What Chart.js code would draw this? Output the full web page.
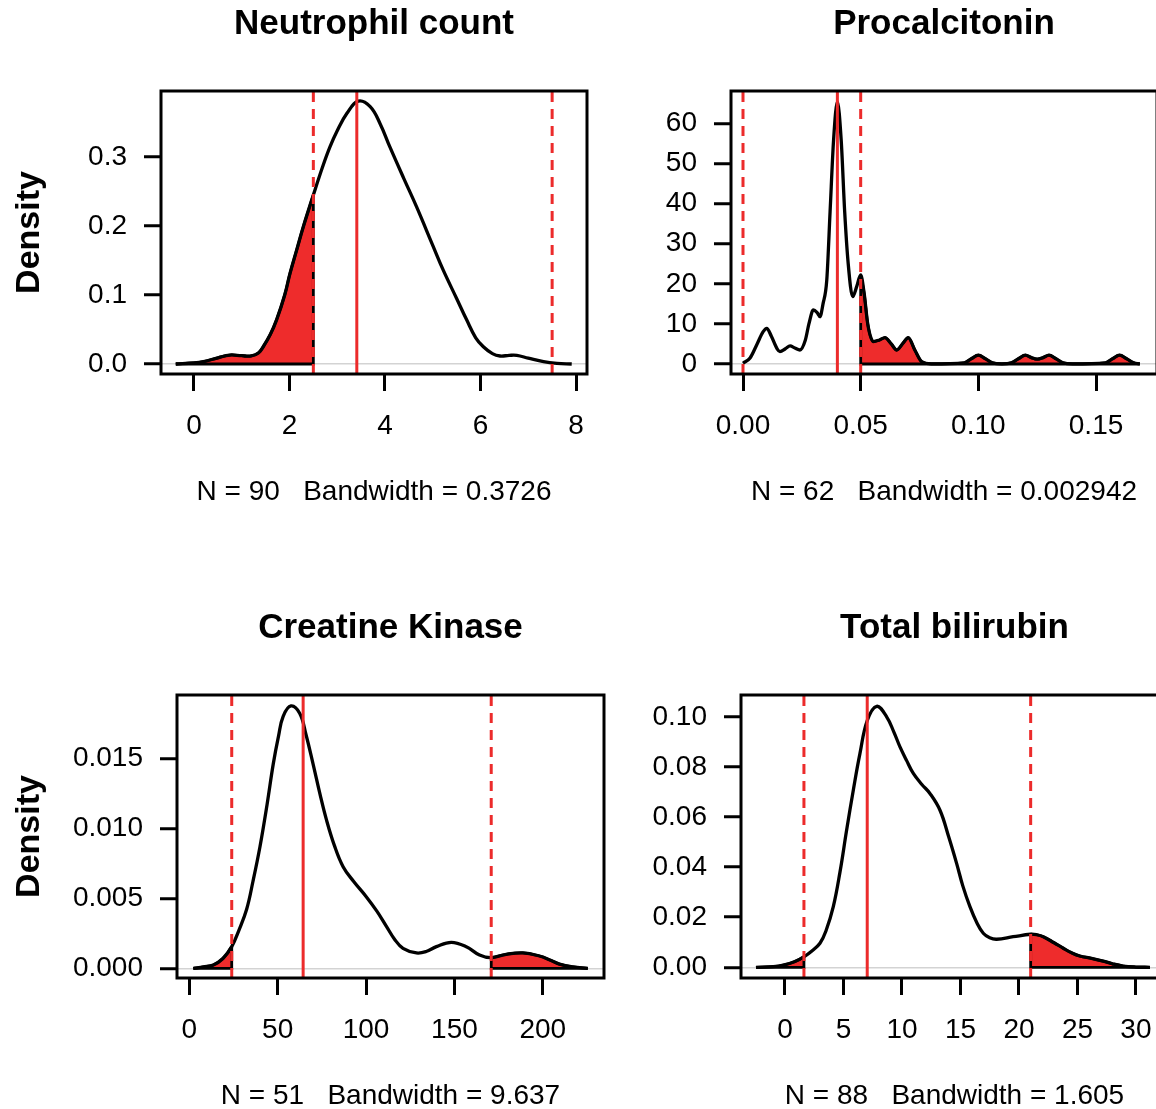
<!DOCTYPE html>
<html>
<head>
<meta charset="utf-8">
<script src="https://cdn.jsdelivr.net/npm/chart.js@4.4.1/dist/chart.umd.min.js"></script>
<style>
  html, body { margin: 0; padding: 0; background: #fff; width: 1156px; height: 1109px; overflow: hidden; position: relative; }
  canvas { position: absolute; }
</style>
</head>
<body>
<canvas id="c1"></canvas>
<canvas id="c2"></canvas>
<canvas id="c3"></canvas>
<canvas id="c4"></canvas>
<script>
// Density plots with reference limits

// Neutrophil count
const neutroX = [-0.38, 0.0, 0.2, 0.5, 0.75, 1.0, 1.2, 1.35, 1.45, 1.6, 1.73, 1.9, 2.01, 2.15, 2.29, 2.5, 2.7, 2.85, 3.0, 3.2, 3.44, 3.69, 3.9, 4.1, 4.4, 4.66, 5.0, 5.22, 5.5, 5.71, 5.9, 6.06, 6.25, 6.41, 6.6, 6.76, 7.0, 7.32, 7.6, 7.91];
const neutroY = [0, 0.0015, 0.0034, 0.009, 0.013, 0.012, 0.0116, 0.016, 0.025, 0.043, 0.064, 0.1, 0.131, 0.165, 0.199, 0.245, 0.287, 0.315, 0.338, 0.363, 0.381, 0.373, 0.348, 0.315, 0.268, 0.228, 0.172, 0.136, 0.095, 0.064, 0.038, 0.025, 0.015, 0.0116, 0.0125, 0.0125, 0.0085, 0.0034, 0.001, 0];
const neutroCuts = [2.5, 3.41, 7.5];          // lower, median, upper
const neutroXTicks = [0, 2, 4, 6, 8];
const neutroYTicks = [0, 0.1, 0.2, 0.3];

// Procalcitonin
const pctX = [0, 0.003, 0.006, 0.0085, 0.0101, 0.012, 0.0145, 0.0157, 0.018, 0.02, 0.022, 0.0242, 0.0265, 0.028, 0.0299, 0.0315, 0.0327, 0.034, 0.0356, 0.037, 0.0385, 0.0401, 0.0417, 0.0432, 0.0447, 0.0466, 0.0483, 0.05, 0.0515, 0.053, 0.0554, 0.058, 0.0603, 0.063, 0.0653, 0.068, 0.0702, 0.073, 0.0759, 0.08, 0.094, 0.097, 0.1, 0.103, 0.106, 0.11, 0.114, 0.117, 0.12, 0.1225, 0.125, 0.1275, 0.13, 0.133, 0.136, 0.14, 0.154, 0.157, 0.16, 0.163, 0.166, 0.1686];
const pctY = [0.2, 1.5, 5, 8, 8.9, 7, 3.8, 3.1, 3.8, 4.5, 4.0, 3.5, 6, 10, 13.5, 12.8, 11.8, 15, 21, 38, 56, 65.4, 56, 38, 25, 16.8, 19.3, 22.2, 17.5, 10, 5.6, 6.0, 6.6, 5, 3.5, 5.2, 6.6, 3.5, 0.6, 0.05, 0.3, 1.3, 2.2, 1.3, 0.3, 0.05, 0.3, 1.3, 2.2, 1.6, 1.2, 1.6, 2.2, 1.3, 0.3, 0.05, 0.3, 1.3, 2.2, 1.3, 0.3, 0.05];
const pctCuts = [0, 0.0401, 0.05];
const pctXTicks = [0, 0.05, 0.10, 0.15];
const pctYTicks = [0, 10, 20, 30, 40, 50, 60];

// Creatine Kinase
const ckX = [2.3, 8, 13.6, 19, 24, 28, 32.4, 36, 40, 44, 47.5, 50.5, 53.1, 57.5, 62.5, 66, 70, 74, 77.6, 82, 87, 93, 100.2, 106, 111.5, 116, 120.9, 128.5, 134, 139.8, 148.2, 156.7, 164.2, 170.8, 179.3, 188.7, 198.1, 204, 209.4, 217, 225.4];
const ckY = [0, 0.0001, 0.00024, 0.0007, 0.00155, 0.0027, 0.0042, 0.0062, 0.0087, 0.0117, 0.0146, 0.0166, 0.018, 0.01874, 0.0182, 0.0167, 0.0146, 0.0124, 0.0106, 0.0088, 0.00726, 0.0062, 0.0051, 0.0041, 0.003, 0.0021, 0.00143, 0.0011, 0.0012, 0.00155, 0.00186, 0.00155, 0.00095, 0.00076, 0.001, 0.0011, 0.00088, 0.0006, 0.0003, 0.0001, 0];
const ckCuts = [24, 64.4, 170.8];
const ckXTicks = [0, 50, 100, 150, 200];
const ckYTicks = [0, 0.005, 0.010, 0.015];

// Total bilirubin
const bilX = [-2.48, -1, -0.14, 0.8, 1.62, 2.3, 2.99, 3.5, 4.13, 4.7, 5.27, 5.85, 6.41, 7.04, 7.84, 8.69, 9.3, 9.83, 10.4, 10.97, 11.7, 12.39, 13.25, 14, 14.67, 15.2, 15.81, 16.4, 16.95, 17.5, 18.09, 19.51, 21.0, 21.5, 22.08, 23, 23.79, 24.5, 25.21, 26.2, 27.2, 28, 28.9, 30, 31.2];
const bilY = [0, 0.0003, 0.0009, 0.0022, 0.0042, 0.0065, 0.0096, 0.0145, 0.0242, 0.038, 0.0548, 0.071, 0.0854, 0.0986, 0.1042, 0.1, 0.094, 0.088, 0.0825, 0.0774, 0.073, 0.0694, 0.0627, 0.052, 0.0415, 0.0325, 0.0242, 0.0178, 0.0136, 0.0118, 0.0112, 0.0122, 0.0132, 0.013, 0.0122, 0.0098, 0.0076, 0.0058, 0.0045, 0.0036, 0.0025, 0.0014, 0.0005, 0.0001, 0];
const bilCuts = [1.62, 7.03, 21.0];
const bilXTicks = [0, 5, 10, 15, 20, 25, 30];
const bilYTicks = [0, 0.02, 0.04, 0.06, 0.08, 0.10];

const FONT = "'Liberation Sans', Arial, Helvetica, sans-serif";
const RED = '#ec2b2b';
const FILL = '#ee2c2c';

Chart.defaults.color = '#000';
Chart.defaults.font.family = FONT;

// canvas placement + plot box (page px) for each panel
const PANELS = [
  { id: 'c1', title: 'Neutrophil count', sub: 'N = 90   Bandwidth = 0.3726', xs: neutroX, ys: neutroY, cuts: neutroCuts,
    xTicks: neutroXTicks, yTicks: neutroYTicks, xDec: 0, yDec: 1, xr: [-0.69, 8.23], yr: [-0.0145, 0.3957], smooth: 'bezier',
    fillLo: true, fillHi: false, ylab: true, cx: 0, cy: 0, cw: 610, ch: 554, box: [161, 91, 587, 374], titleY: 24, subY: 492 },
  { id: 'c2', title: 'Procalcitonin', sub: 'N = 62   Bandwidth = 0.002942', xs: pctX, ys: pctY, cuts: pctCuts,
    xTicks: pctXTicks, yTicks: pctYTicks, xDec: 2, yDec: 0, xr: [-0.0051, 0.1759], yr: [-2.49, 68.08], smooth: 'monotone',
    fillLo: false, fillHi: true, ylab: false, cx: 578, cy: 0, cw: 600, ch: 554, box: [731, 91, 1157, 374], titleY: 24, subY: 492 },
  { id: 'c3', title: 'Creatine Kinase', sub: 'N = 51   Bandwidth = 9.637', xs: ckX, ys: ckY, cuts: ckCuts,
    xTicks: ckXTicks, yTicks: ckYTicks, xDec: 0, yDec: 3, xr: [-6.96, 234.6], yr: [-0.00069, 0.01952], smooth: 'bezier',
    fillLo: true, fillHi: true, ylab: true, cx: 0, cy: 554, cw: 620, ch: 580, box: [177, 695, 604, 978], titleY: 628, subY: 1096 },
  { id: 'c4', title: 'Total bilirubin', sub: 'N = 88   Bandwidth = 1.605', xs: bilX, ys: bilY, cuts: bilCuts,
    xTicks: bilXTicks, yTicks: bilYTicks, xDec: 0, yDec: 2, xr: [-3.76, 32.74], yr: [-0.00427, 0.1087], smooth: 'bezier',
    fillLo: true, fillHi: true, ylab: false, cx: 578, cy: 554, cw: 600, ch: 580, box: [741, 695, 1168, 978], titleY: 628, subY: 1096 },
];

const boxPlugin = {
  id: 'plotBox',
  afterDatasetsDraw(chart) {
    const { ctx, chartArea: a } = chart;
    ctx.save();
    ctx.lineWidth = 3;
    ctx.strokeStyle = '#000';
    ctx.strokeRect(a.left, a.top, a.right - a.left, a.bottom - a.top);
    ctx.restore();
  },
};

function buildPanel(p) {
  const canvas = document.getElementById(p.id);
  canvas.width = p.cw;
  canvas.height = p.ch;
  canvas.style.left = p.cx + 'px';
  canvas.style.top = p.cy + 'px';

  const [L, T, R, B] = p.box;
  const pts = p.xs.map((x, i) => ({ x, y: p.ys[i] }));
  const [lo, med, hi] = p.cuts;
  const datasets = [];

  const lineOpts = p.smooth === 'monotone'
    ? { pointRadius: 0, cubicInterpolationMode: 'monotone', borderJoinStyle: 'round' }
    : { pointRadius: 0, tension: 0.4, borderJoinStyle: 'round' };

  // reference lines (on top)
  [[lo, true], [med, false], [hi, true]].forEach(([c, dashed]) => {
    datasets.push({ data: [{ x: c, y: p.yr[0] }, { x: c, y: p.yr[1] }], borderColor: RED, borderWidth: 3,
      borderDash: dashed ? [10, 7] : [], pointRadius: 0, fill: false, order: 0 });
  });

  // density curve
  datasets.push({ data: pts, borderColor: '#000', borderWidth: 3.3, fill: false, order: 1, ...lineOpts });

  // shaded tails
  const tail = (sub, edge) => {
    datasets.push({ data: sub, borderColor: '#000', borderWidth: 2.8, backgroundColor: FILL,
      fill: { value: 0 }, order: 3, ...lineOpts });
    datasets.push({ data: edge, borderColor: '#000', borderWidth: 2.8, pointRadius: 0, fill: false, tension: 0, order: 2 });
  };
  if (p.fillLo) {
    const sub = pts.filter(d => d.x <= lo);
    const yc = sub[sub.length - 1].y;
    tail(sub, [{ x: sub[0].x, y: 0 }, { x: lo, y: 0 }, { x: lo, y: yc }]);
  }
  if (p.fillHi) {
    const sub = pts.filter(d => d.x >= hi);
    const yc = sub[0].y;
    tail(sub, [{ x: sub[sub.length - 1].x, y: 0 }, { x: hi, y: 0 }, { x: hi, y: yc }]);
  }

  const titleLH = 35 * 1.2;
  const subLH = 28 * 1.2;
  const ylabLH = 34 * 1.2;
  const titleTop = p.titleY - p.cy - titleLH / 2;

  new Chart(canvas, {
    type: 'line',
    data: { datasets },
    options: {
      responsive: false,
      animation: false,
      events: [],
      layout: { padding: { left: 0, top: 0, bottom: 0, right: p.cx + p.cw - R } },
      plugins: {
        legend: { display: false },
        tooltip: { enabled: false },
        title: {
          display: true, text: p.title, fullSize: false, color: '#000',
          font: { family: FONT, size: 35, weight: 'bold' },
          padding: { top: titleTop, bottom: (T - p.cy) - titleLH - titleTop },
        },
      },
      scales: {
        x: {
          type: 'linear', min: p.xr[0], max: p.xr[1],
          afterBuildTicks: s => { s.ticks = p.xTicks.map(v => ({ value: v })); },
          afterFit: s => { s.height = p.cy + p.ch - B; },
          border: { display: false },
          grid: { drawOnChartArea: false, drawTicks: true, tickLength: 17, tickColor: '#000', tickWidth: 3 },
          ticks: { autoSkip: false, maxRotation: 0, padding: 18, color: '#000',
            font: { family: FONT, size: 28 }, callback: v => Number(v).toFixed(p.xDec) },
          title: { display: true, text: p.sub, color: '#000', font: { family: FONT, size: 28 },
            padding: { top: 0, bottom: (p.cy + p.ch) - p.subY - subLH / 2 } },
        },
        y: {
          type: 'linear', min: p.yr[0], max: p.yr[1],
          afterBuildTicks: s => { s.ticks = p.yTicks.map(v => ({ value: v })); },
          afterFit: s => { s.width = L - p.cx; },
          border: { display: false },
          grid: {
            drawOnChartArea: true, drawTicks: true, tickLength: 17, tickColor: '#000', tickWidth: 3,
            color: c => (c.tick && c.tick.value === 0) ? '#d3d3d3' : 'rgba(0,0,0,0)', lineWidth: 1.5,
          },
          ticks: { autoSkip: false, padding: 17, color: '#000',
            font: { family: FONT, size: 28 }, callback: v => Number(v).toFixed(p.yDec) },
          title: { display: p.ylab, text: 'Density', color: '#000', font: { family: FONT, size: 34, weight: 'bold' },
            padding: { top: 30 - p.cx - ylabLH / 2, bottom: 0 } },
        },
      },
    },
    plugins: [boxPlugin],
  });
}

PANELS.forEach(buildPanel);
</script>
</body>
</html>
